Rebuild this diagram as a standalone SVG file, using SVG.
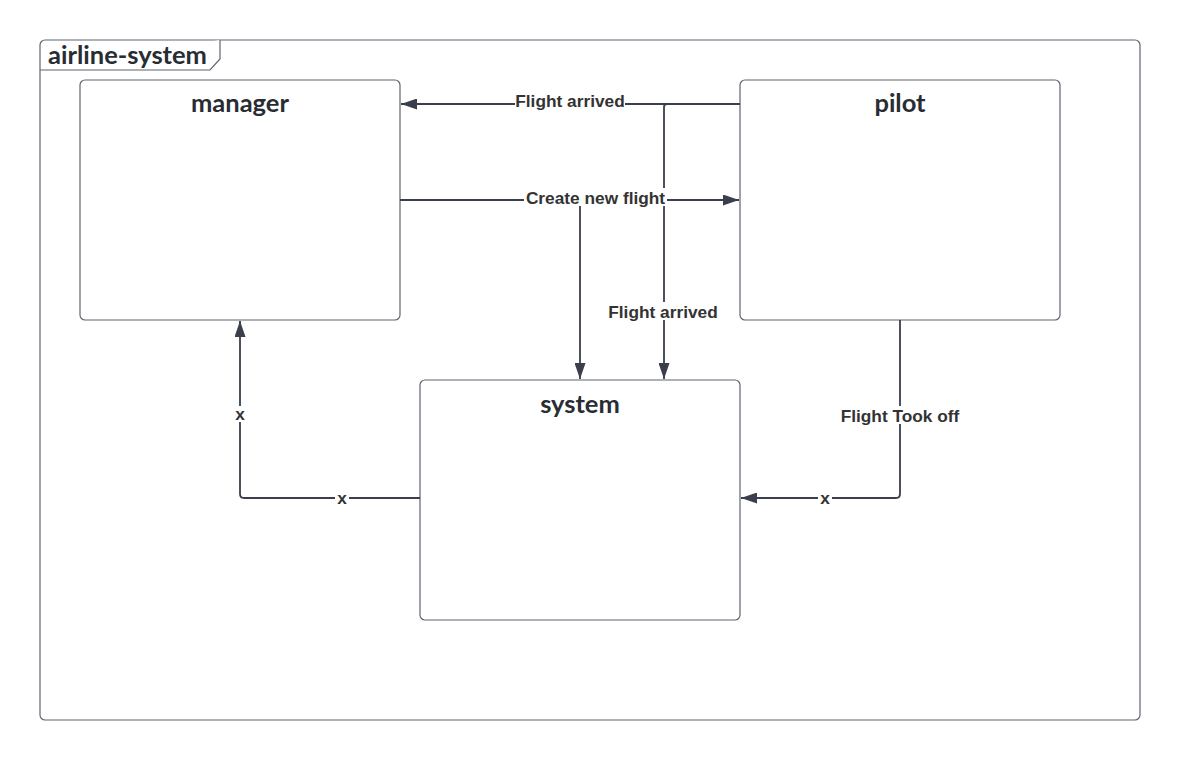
<svg xmlns="http://www.w3.org/2000/svg" width="1180" height="760" viewBox="0 0 1180 760">
<style>
.box{fill:#ffffff;stroke:#5e6470;stroke-width:1.2}
.title{font-family:Lato,"Liberation Sans",sans-serif;font-weight:bold;font-size:25.5px;fill:#282c33;text-anchor:middle}
.conn{fill:none;stroke:#3a3f4b;stroke-width:1.8}
.lbl{font-family:"Liberation Sans",Arial,sans-serif;font-weight:bold;font-size:17.3px;fill:#333333;text-anchor:middle}
.lblbg{fill:#ffffff}
</style>
<defs>
<marker id="arr" viewBox="0 0 16 11" refX="16" refY="5.5" markerWidth="16" markerHeight="11" markerUnits="userSpaceOnUse" orient="auto">
<path d="M0,0 L16,5.5 L0,11 Z" fill="#3a3f4b"/>
</marker>
</defs>
<rect width="1180" height="760" fill="#ffffff"/>
<g id="frame">
<rect x="40" y="40" width="1100" height="680" rx="5" class="box"/>
<path d="M40,70 L210,70 L220,59 L220,40" class="box" fill="none"/>
<text x="48" y="64" font-family="Lato,'Liberation Sans',sans-serif" font-weight="bold" font-size="25.5" fill="#282c33">airline-system</text>
</g>
<g id="node-manager">
<rect x="80" y="80" width="320" height="240" rx="5" class="box"/>
<text x="240" y="112" class="title">manager</text>
</g>
<g id="node-pilot">
<rect x="740" y="80" width="320" height="240" rx="5" class="box"/>
<text x="900" y="112" class="title">pilot</text>
</g>
<g id="node-system">
<rect x="420" y="380" width="320" height="240" rx="5" class="box"/>
<text x="580" y="413" class="title">system</text>
</g>
<g id="connectors">
<path d="M740,104 L401,104" class="conn" marker-end="url(#arr)"/>
<path d="M740,104 L667,104 Q664,104 664,107 L664,379" class="conn" marker-end="url(#arr)"/>
<path d="M400,200 L739,200" class="conn" marker-end="url(#arr)"/>
<path d="M580,200 L580,379" class="conn" marker-end="url(#arr)"/>
<path d="M900,320 L900,494 Q900,498 896,498 L741,498" class="conn" marker-end="url(#arr)"/>
<path d="M420,498 L244,498 Q240,498 240,494 L240,321" class="conn" marker-end="url(#arr)"/>
<rect x="515" y="92" width="110" height="18" class="lblbg"/>
<text x="570" y="107" class="lbl">Flight arrived</text>
<rect x="524" y="188" width="143" height="18" class="lblbg"/>
<text x="595.5" y="204" class="lbl">Create new flight</text>
<rect x="606" y="302" width="114" height="18" class="lblbg"/>
<text x="663" y="318" class="lbl">Flight arrived</text>
<rect x="838" y="406" width="124" height="18" class="lblbg"/>
<text x="900" y="422" class="lbl">Flight Took off</text>
<rect x="818" y="490" width="14" height="16" class="lblbg"/>
<text x="825" y="504" class="lbl">x</text>
<rect x="335" y="490" width="14" height="16" class="lblbg"/>
<text x="342" y="504" class="lbl">x</text>
<rect x="233" y="406" width="14" height="16" class="lblbg"/>
<text x="240" y="420" class="lbl">x</text>
</g>
</svg>
